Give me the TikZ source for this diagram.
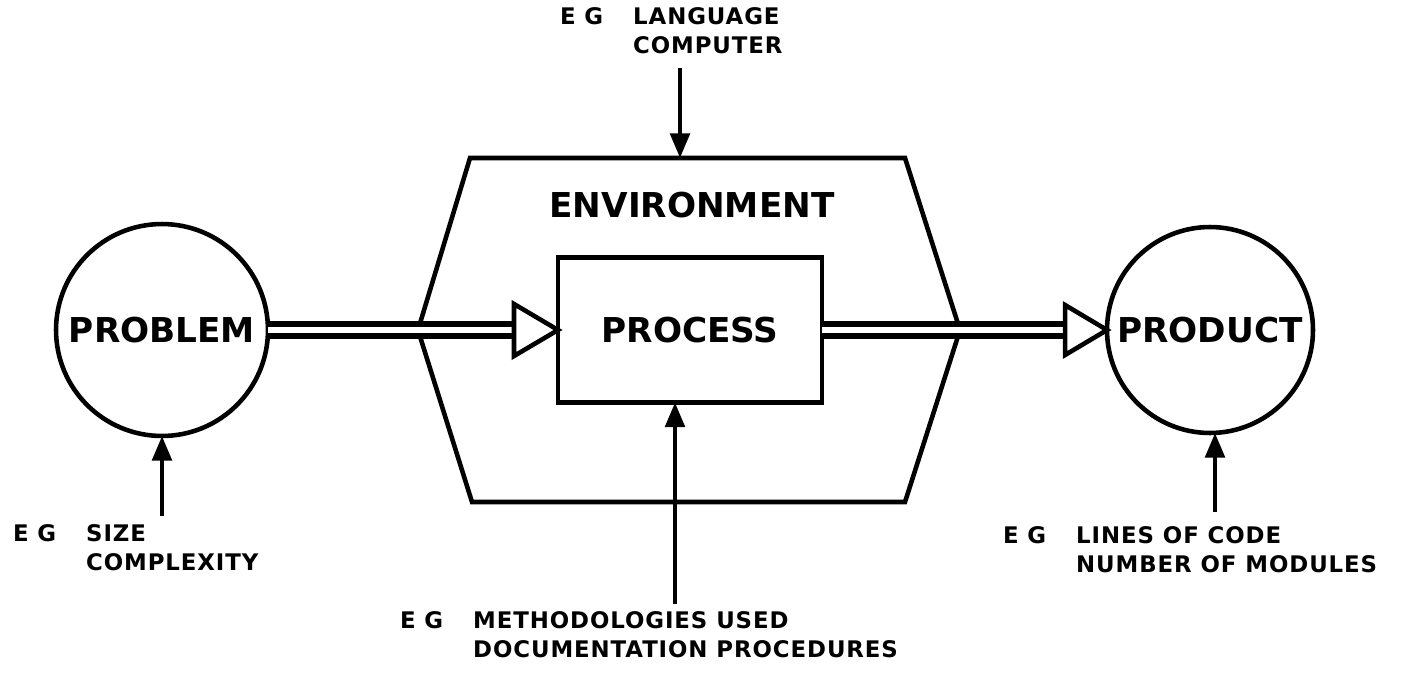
\documentclass[tikz,border=0pt]{standalone}
\usepackage{fontspec}
\setmainfont{DejaVu Sans}
\usetikzlibrary{positioning}
\usetikzlibrary{arrows.meta}
\usetikzlibrary{calc}

\begin{document}
\begin{tikzpicture}[x=0.02cm,y=-0.02cm,
	every node/.style={inner sep=0,outer sep=0},
	big/.style={font=\bfseries\fontsize{19.5}{22}\selectfont},
	thing/.style={big,draw,circle,line width=2.6pt},
	eg/.style={font=\bfseries\fontsize{13}{16}\selectfont\addfontfeature{LetterSpace=4},align=left,anchor=north west},
	flow/.style={double,double distance=3.6pt,line width=3.2pt},
	head/.style={draw,line width=2.6pt,fill=white,line join=miter},
	feed/.style={line width=2.5pt,-{Triangle[length=14pt,width=11pt]}}]
	\useasboundingbox (0,0) rectangle (1409,673);
	% problem, process, product
	\node[thing,minimum size=4.24cm] (problem) at (162,330) {PROBLEM};
	\node[thing,minimum size=4.12cm] (product) at (1210,330) {PRODUCT};
	\node[big,draw,line width=2.6pt,minimum width=5.28cm,minimum height=2.9cm] (process) at (690,330) {PROCESS};
	\node[big] (env) at (692,205) {ENVIRONMENT};
	\draw[line width=2.6pt,line join=miter] (470,158) coordinate (envTop) -- (905,158) -- (960,330) -- (905,502) -- (472,502) -- (418,330) -- cycle;
	% double flows
	\coordinate (inTip) at (process.west);
	\coordinate (inBack) at ($(inTip)+(-44,0)$);
	\coordinate (outTip) at (product.west);
	\coordinate (outBack) at ($(outTip)+(-42,0)$);
	\draw[flow] (problem) -- (inBack);
	\draw[flow] (process) -- (outBack);
	\draw[head] (inTip) -- ($(inBack)+(0,-26)$) -- ($(inBack)+(0,26)$) -- cycle;
	\draw[head] (outTip) -- ($(outBack)+(0,-25)$) -- ($(outBack)+(0,25)$) -- cycle;
	% examples
	\node[eg] (egLang) at (560,8) {E G};
	\node[eg] (lang) [right=0.6cm of egLang.north east,anchor=north west] {LANGUAGE\\COMPUTER};
	\node[eg] (egSize) at (13,525) {E G};
	\node[eg] (size) [right=0.6cm of egSize.north east,anchor=north west] {SIZE\\COMPLEXITY};
	\node[eg] (egMeth) at (400,612) {E G};
	\node[eg] (meth) [right=0.6cm of egMeth.north east,anchor=north west] {METHODOLOGIES USED\\DOCUMENTATION PROCEDURES};
	\node[eg] (egLines) at (1003,527) {E G};
	\node[eg] (lines) [right=0.6cm of egLines.north east,anchor=north west] {LINES OF CODE\\NUMBER OF MODULES};
	\coordinate (langTail) at (680,68);
	\coordinate (sizeTail) at (162,516);
	\coordinate (methTail) at (675,604);
	\coordinate (linesTail) at (1215,512);
	\draw[feed] (langTail) -- (langTail |- envTop);
	\draw[feed] (sizeTail) -- (problem);
	\draw[feed] (methTail) -- (methTail |- process.south);
	\draw[feed] (linesTail) -- (linesTail |- product.south);
\end{tikzpicture}
\end{document}
